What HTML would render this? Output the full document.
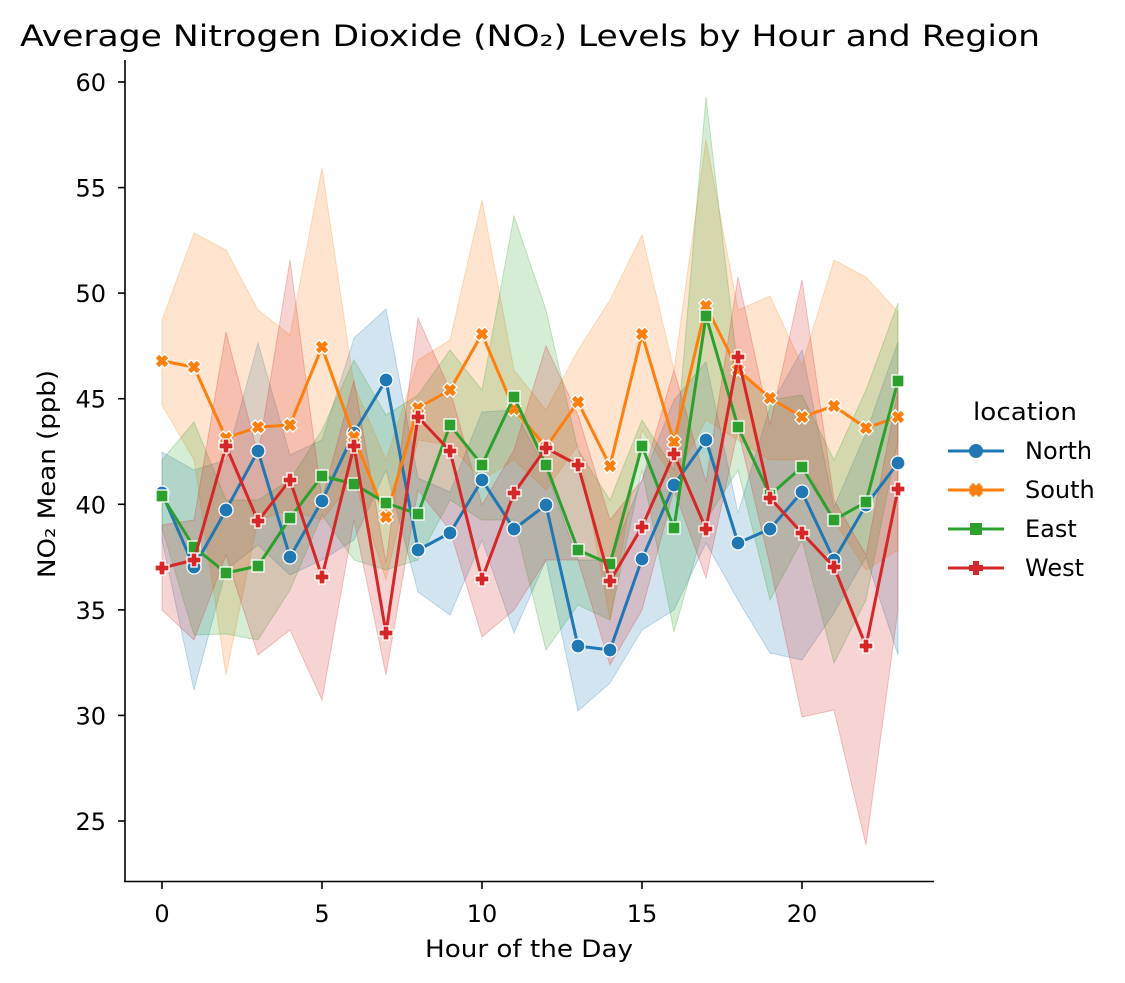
<!DOCTYPE html>
<html><head><meta charset="utf-8"><style>body{margin:0;background:#fff}svg{display:block}text{font-family:"DejaVu Sans","Liberation Sans",sans-serif;fill:#000}</style></head>
<body>
<svg id="s" width="1125" height="983" xmlns="http://www.w3.org/2000/svg">
<rect width="1125" height="983" fill="#fff"/>
<g id="bands">
<polygon fill="#1f77b4" fill-opacity="0.2" stroke="#1f77b4" stroke-opacity="0.25" points="162,452 194,470 226,460 258,343 290,455 322,440 354,338 386,309 418,478 450,492 482,412 514,410 546,470 578,560 610,560 642,480 674,400 706,362 738,513 770,407 802,350 834,507 866,433 898,342 898,655 866,557 834,613 802,660 770,653 738,600 706,543 674,610 642,630 610,683 578,711 546,560 514,633 482,540 450,615 418,592 386,470 354,540 322,560 290,575 258,545 226,570 194,690 162,540"/>
<polygon fill="#ff7f0e" fill-opacity="0.2" stroke="#ff7f0e" stroke-opacity="0.25" points="162,320 194,233 226,250 258,310 290,335 322,168 354,385 386,460 418,360 450,340 482,200 514,370 546,410 578,350 610,300 642,235 674,370 706,140 738,310 770,296 802,365 834,260 866,277 898,312 898,550 866,570 834,520 802,460 770,460 738,440 706,420 674,480 642,430 610,620 578,445 546,490 514,460 482,480 450,445 418,440 386,580 354,480 322,520 290,510 258,520 226,675 194,460 162,405"/>
<polygon fill="#2ca02c" fill-opacity="0.2" stroke="#2ca02c" stroke-opacity="0.25" points="162,460 194,422 226,500 258,500 290,480 322,430 354,360 386,415 418,395 450,350 482,390 514,216 546,310 578,450 610,500 642,420 674,470 706,97 738,370 770,400 802,395 834,460 866,390 898,303 898,440 866,600 834,663 802,540 770,600 738,470 706,520 674,632 642,470 610,620 578,605 546,650 514,520 482,520 450,500 418,560 386,570 354,560 322,515 290,590 258,640 226,634 194,635 162,528"/>
<polygon fill="#d62728" fill-opacity="0.2" stroke="#d62728" stroke-opacity="0.25" points="162,525 194,520 226,332 258,455 290,260 322,500 354,380 386,563 418,318 450,390 482,505 514,450 546,346 578,415 610,520 642,480 674,370 706,482 738,277 770,425 802,280 834,500 866,555 898,390 898,610 866,845 834,710 802,717 770,565 738,430 706,578 674,490 642,610 610,665 578,560 546,560 514,610 482,637 450,530 418,490 386,675 354,520 322,700 290,630 258,655 226,555 194,640 162,610"/>
</g>
<g id="lines"></g>
<g stroke="#000" stroke-width="1.6" fill="none">
<line x1="125" y1="60" x2="125" y2="882"/>
<line x1="124" y1="881.5" x2="934" y2="881.5"/>
<line x1="162" y1="882" x2="162" y2="889"/><line x1="322" y1="882" x2="322" y2="889"/><line x1="482" y1="882" x2="482" y2="889"/><line x1="642" y1="882" x2="642" y2="889"/><line x1="802" y1="882" x2="802" y2="889"/>
<line x1="118" y1="82" x2="125" y2="82"/><line x1="118" y1="187.6" x2="125" y2="187.6"/><line x1="118" y1="293.1" x2="125" y2="293.1"/><line x1="118" y1="398.7" x2="125" y2="398.7"/><line x1="118" y1="504.3" x2="125" y2="504.3"/><line x1="118" y1="609.9" x2="125" y2="609.9"/><line x1="118" y1="715.4" x2="125" y2="715.4"/><line x1="118" y1="821" x2="125" y2="821"/>
</g>
<g font-size="24" text-anchor="middle">
<text x="162" y="922">0</text><text x="322" y="922">5</text><text x="482" y="922">10</text><text x="642" y="922">15</text><text x="802" y="922">20</text>
</g>
<g font-size="24" text-anchor="end">
<text x="106" y="91">60</text><text x="106" y="196.6">55</text><text x="106" y="302.1">50</text><text x="106" y="407.7">45</text><text x="106" y="513.3">40</text><text x="106" y="618.9">35</text><text x="106" y="724.4">30</text><text x="106" y="830">25</text>
</g>
<text x="425" y="957" font-size="24" textLength="208" lengthAdjust="spacingAndGlyphs">Hour of the Day</text>
<text x="0" y="0" font-size="24" text-anchor="middle" textLength="208" lengthAdjust="spacingAndGlyphs" transform="translate(55,474) rotate(-90)">NO₂ Mean (ppb)</text>
<text x="20" y="46" font-size="29" textLength="1020" lengthAdjust="spacingAndGlyphs">Average Nitrogen Dioxide (NO₂) Levels by Hour and Region</text>
<text x="973" y="420" font-size="24" textLength="104" lengthAdjust="spacingAndGlyphs">location</text>
<g font-size="24"><text x="1025" y="459">North</text><text x="1025" y="498">South</text><text x="1025" y="537">East</text><text x="1025" y="576">West</text></g>
<g id="leg"></g>
</svg>
<script>
const X=i=>162+32*i;
const data={
"#1f77b4":["c",[493,567,510,451,557,501,433,380,550,533,480,529,505,646,650,559,485,440,543,529,492,560,505,463]],
"#ff7f0e":["x",[361,367,438,427,425,347,437,517,408,390,334,409,447,402,466,334,442,306,370,398,417,406,428,417]],
"#2ca02c":["s",[496,547,573,566,518,476,484,503,514,425,465,397,465,550,564,446,528,316,427,495,467,520,502,381]],
"#d62728":["p",[568,560,446,521,480,577,446,633,417,451,579,493,448,465,581,527,454,529,357,498,533,567,646,489]]};
function mk(t,x,y,c,w){
 if(t=="c")return `<circle cx="${x}" cy="${y}" r="7" fill="${c}" stroke="#fff" stroke-width="${w}"/>`;
 if(t=="s")return `<rect x="${x-6}" y="${y-6}" width="12" height="12" fill="${c}" stroke="#fff" stroke-width="${w}"/>`;
 const a=3,b=7,r=t=="x"?45:0;
 return `<polygon transform="translate(${x},${y}) rotate(${r})" points="${-a},${-b} ${a},${-b} ${a},${-a} ${b},${-a} ${b},${a} ${a},${a} ${a},${b} ${-a},${b} ${-a},${a} ${-b},${a} ${-b},${-a} ${-a},${-a}" fill="${c}" stroke="#fff" stroke-width="${w}"/>`;
}
let h="",lg="",k=0;
for(const c in data){const [t,ys]=data[c];
 h+=`<polyline fill="none" stroke="${c}" stroke-width="3" stroke-linejoin="round" points="${ys.map((y,i)=>X(i)+","+y).join(" ")}"/>`;
 ys.forEach((y,i)=>h+=mk(t,X(i),y,c,1.3));
 const ly=451+39*k;k++;
 lg+=`<line x1="948" y1="${ly}" x2="1004" y2="${ly}" stroke="${c}" stroke-width="3"/>`+mk(t,976,ly,c,0);
}
document.getElementById("lines").innerHTML=h;
document.getElementById("leg").innerHTML=lg;
</script>
</body></html>
